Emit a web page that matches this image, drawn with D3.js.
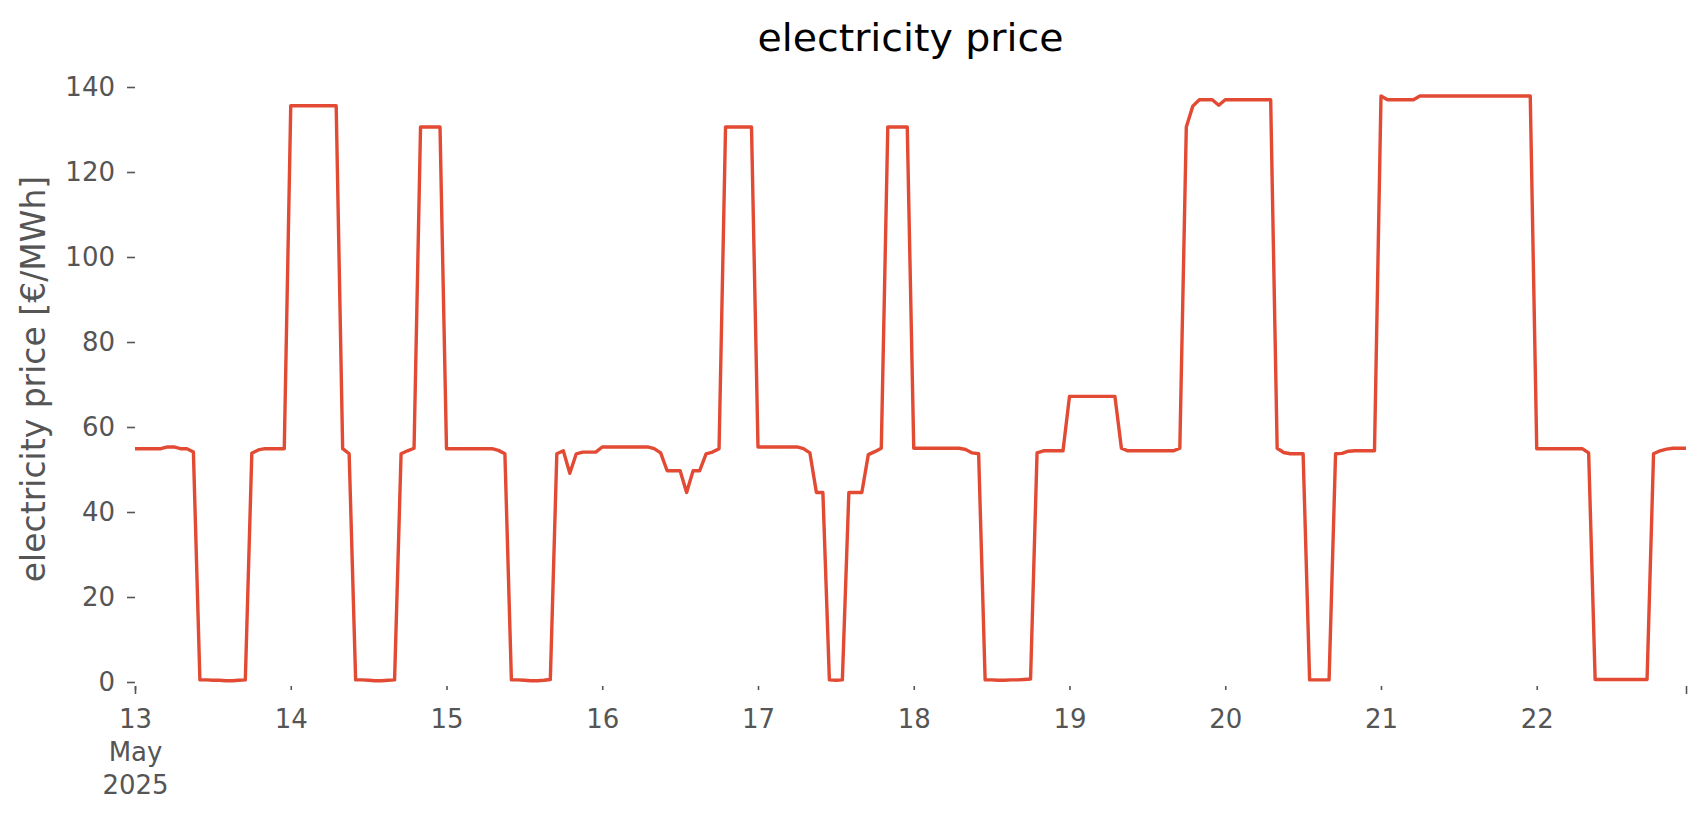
<!DOCTYPE html>
<html>
<head>
<meta charset="utf-8">
<script src="https://cdn.jsdelivr.net/npm/d3@7"></script>
<style>
  body { margin: 0; background: #ffffff; }
  text { font-family: "DejaVu Sans", sans-serif; }
</style>
</head>
<body>
<svg id="chart" width="1706" height="815"></svg>
<script>
// ---- data (hourly electricity price, €/MWh) ----
const titleText = "electricity price";
const yLabelText = "electricity price [€/MWh]";
const startDay = { year: 2025, month: 4, day: 13 }; // 13 May 2025 00:00
const dayLabels = ["13", "14", "15", "16", "17", "18", "19", "20", "21", "22"];
const firstDayLabel = ["13", "May", "2025"];
const yTicks = [0, 20, 40, 60, 80, 100, 120, 140];

const may13 = [54.9, 54.9, 54.9, 54.9, 54.9, 55.3, 55.3, 54.9, 54.9, 54.1, 0.5, 0.5, 0.4, 0.4, 0.3, 0.3, 0.4, 0.5, 53.8, 54.6, 54.9, 54.9, 54.9, 54.9];
const may14 = [135.6, 135.6, 135.6, 135.6, 135.6, 135.6, 135.6, 135.6, 54.9, 53.7, 0.5, 0.5, 0.4, 0.3, 0.3, 0.4, 0.5, 53.7, 54.4, 55.0, 130.6, 130.6, 130.6, 130.6];
const may15 = [54.9, 54.9, 54.9, 54.9, 54.9, 54.9, 54.9, 54.9, 54.5, 53.7, 0.5, 0.5, 0.4, 0.3, 0.3, 0.4, 0.6, 53.7, 54.4, 49.1, 53.7, 54.1, 54.1, 54.1];
const may16 = [55.3, 55.3, 55.3, 55.3, 55.3, 55.3, 55.3, 55.3, 54.9, 53.9, 49.7, 49.7, 49.7, 44.6, 49.7, 49.7, 53.7, 54.1, 54.9, 130.6, 130.6, 130.6, 130.6, 130.6];
const may17 = [55.3, 55.3, 55.3, 55.3, 55.3, 55.3, 55.3, 54.9, 53.9, 44.6, 44.6, 0.5, 0.4, 0.5, 44.6, 44.6, 44.6, 53.5, 54.2, 55.0, 130.6, 130.6, 130.6, 130.6];
const may18 = [55.0, 55.0, 55.0, 55.0, 55.0, 55.0, 55.0, 55.0, 54.7, 53.9, 53.7, 0.5, 0.5, 0.4, 0.4, 0.5, 0.5, 0.6, 0.7, 53.9, 54.4, 54.4, 54.4, 54.4];
const may19 = [67.2, 67.2, 67.2, 67.2, 67.2, 67.2, 67.2, 67.2, 55.0, 54.4, 54.4, 54.4, 54.4, 54.4, 54.4, 54.4, 54.4, 55.0, 130.6, 135.5, 137.0, 137.0, 137.0, 135.7];
const may20 = [137.0, 137.0, 137.0, 137.0, 137.0, 137.0, 137.0, 137.0, 55.0, 54.0, 53.7, 53.7, 53.7, 0.5, 0.5, 0.5, 0.5, 53.7, 53.8, 54.3, 54.4, 54.4, 54.4, 54.4];
const may21 = [137.9, 137.0, 137.0, 137.0, 137.0, 137.0, 137.9, 137.9, 137.9, 137.9, 137.9, 137.9, 137.9, 137.9, 137.9, 137.9, 137.9, 137.9, 137.9, 137.9, 137.9, 137.9, 137.9, 137.9];
const may22 = [54.9, 54.9, 54.9, 54.9, 54.9, 54.9, 54.9, 54.9, 53.9, 0.6, 0.6, 0.6, 0.6, 0.6, 0.6, 0.6, 0.6, 0.6, 53.7, 54.4, 54.8, 55.0, 55.0, 55.0];

const dailySeries = [may13, may14, may15, may16, may17, may18, may19, may20, may21, may22];

// ---- build table ----
const t0 = new Date(startDay.year, startDay.month, startDay.day, 0, 0, 0);
const hourMs = 3600 * 1000;
const data = [];
dailySeries.forEach((arr, d) => {
  arr.forEach((v, h) => {
    data.push({ t: new Date(t0.getTime() + (d * 24 + h) * hourMs), v: v });
  });
});
const dayDates = dayLabels.map((_, i) => new Date(startDay.year, startDay.month, startDay.day + i));
const tEnd = data[data.length - 1].t;

// ---- layout ----
const svg = d3.select("#chart");
const plotLeft = 135, plotRight = 1686, plotTop = 87, plotBottom = 682, axisY = 686;
const color = "#E24A33", tickColor = "#555555";

const x = d3.scaleTime().domain([t0, tEnd]).range([plotLeft, plotRight]);
const y = d3.scaleLinear().domain([0, 140]).range([plotBottom, plotTop]);

// title
svg.append("text")
  .attr("x", (plotLeft + plotRight) / 2)
  .attr("y", 51)
  .attr("text-anchor", "middle")
  .attr("font-size", 37)
  .attr("fill", "#000")
  .attr("textLength", 306)
  .attr("lengthAdjust", "spacingAndGlyphs")
  .text(titleText);

// y axis
const yAxis = svg.append("g")
  .attr("transform", `translate(${plotLeft},0)`)
  .call(d3.axisLeft(y).tickValues(yTicks).tickSize(8).tickPadding(12).tickFormat(d3.format("d")));
yAxis.select(".domain").remove();
yAxis.selectAll(".tick line").attr("stroke", tickColor).attr("stroke-width", 1.6);
yAxis.selectAll(".tick text")
  .attr("font-size", 26)
  .attr("fill", tickColor)
  .attr("font-family", "DejaVu Sans, sans-serif");

// y label
svg.append("text")
  .attr("transform", `translate(45,379) rotate(-90)`)
  .attr("text-anchor", "middle")
  .attr("font-size", 33)
  .attr("fill", tickColor)
  .text(yLabelText);

// x axis: day ticks (short, labelled)
const xAxis = svg.append("g")
  .attr("transform", `translate(0,${axisY})`)
  .call(d3.axisBottom(x).tickValues(dayDates).tickSize(4).tickPadding(6).tickFormat((d, i) => dayLabels[i]));
xAxis.select(".domain").remove();
xAxis.selectAll(".tick line").attr("stroke", tickColor).attr("stroke-width", 1.6);
xAxis.selectAll(".tick text")
  .attr("font-size", 26)
  .attr("fill", tickColor)
  .attr("font-family", "DejaVu Sans, sans-serif")
  .attr("y", 42)
  .attr("dy", 0);

// first label on three lines
xAxis.selectAll(".tick text").filter((d, i) => i === 0).each(function () {
  const t = d3.select(this);
  t.text(null);
  firstDayLabel.forEach((s, k) => {
    t.append("tspan").attr("x", 0).attr("y", 42 + k * 33).text(s);
  });
});

// x axis: long edge ticks
const xEdge = svg.append("g")
  .attr("transform", `translate(0,${axisY})`)
  .call(d3.axisBottom(x).tickValues([t0, tEnd]).tickSize(8).tickFormat(() => ""));
xEdge.select(".domain").remove();
xEdge.selectAll(".tick line").attr("stroke", tickColor).attr("stroke-width", 1.6);

// line
const line = d3.line().x(d => x(d.t)).y(d => y(d.v));
svg.append("path")
  .datum(data)
  .attr("fill", "none")
  .attr("stroke", color)
  .attr("stroke-width", 3.4)
  .attr("stroke-linejoin", "round")
  .attr("d", line);
</script>
</body>
</html>
